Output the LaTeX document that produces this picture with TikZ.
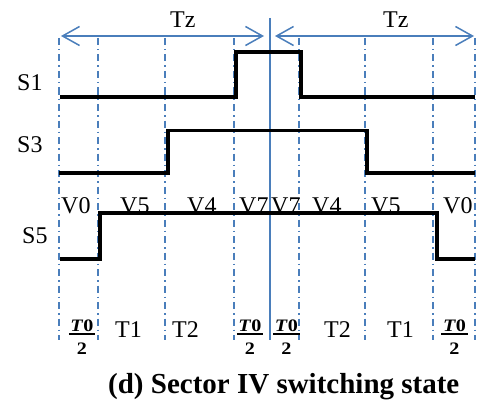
\documentclass[tikz,border=0pt]{standalone}
\usepackage{graphicx}
\usepackage{fontspec}
\setmainfont{Liberation Serif}
\usetikzlibrary{arrows.meta}
\definecolor{guide}{RGB}{74,126,187}
\newcommand{\halfzero}{\scalebox{1.15}[1]{\vbox{\offinterlineskip\halign{\hfil\kern1.5pt##\kern1.5pt\hfil\cr
  \textbf{\textit{T}0}\cr
  \noalign{\kern1.5pt\hrule height 1.8pt\kern 7.5pt}
  \textbf{2}\cr}}}}
\begin{document}
\begin{tikzpicture}[x=1pt,y=-1pt,
  lbl/.style={font=\fontsize{24}{28}\selectfont, inner sep=0pt, anchor=base west},
  frc/.style={font=\fontsize{17.5}{20}\selectfont, inner sep=0pt, anchor=center},
  wave/.style={line width=3.5pt, line join=miter, black},
  guideline/.style={guide, line width=1.5pt, dash pattern=on 7pt off 4pt on 1.5pt off 4pt},
  centerline/.style={guide, line width=2pt},
  span/.style={guide, line width=1.5pt, {Straight Barb[length=17pt,width=19pt]}-{Straight Barb[length=17pt,width=19pt]}}]
\useasboundingbox (0,0) rectangle (494,417);
% guide lines
\foreach \gx in {59,98,165,234,299,365,433,475}
  \draw[guideline] (\gx,38) -- (\gx,340);
\draw[centerline] (269.5,18) -- (269.5,340);
% span arrows
\coordinate (a1) at (61,36);
\coordinate (a2) at (264,36);
\coordinate (b1) at (275,36);
\coordinate (b2) at (474,36);
\draw[span] (a1) -- (a2);
\draw[span] (b1) -- (b2);
\node[lbl] (tzl) at (170,28) {Tz};
\node[lbl] (tzr) at (383,28) {Tz};
% waveforms
\draw[wave] (60,97) -- (236,97) -- (236,52) -- (301,52) -- (301,97) -- (475,97);
\draw[wave] (59,173) -- (168,173) -- (168,130.5) -- (367,130.5) -- (367,173) -- (475,173);
\draw[wave] (60,259) -- (100,259) -- (100,213) -- (437,213) -- (437,259) -- (475,259);
% signal labels
\node[lbl] (s1) at (17,90) {S1};
\node[lbl] (s3) at (17,152) {S3};
\node[lbl] (s5) at (22,243) {S5};
% vector labels
\node[lbl] (v0a) at (61,213) {V0};
\node[lbl] (v5a) at (120,213) {V5};
\node[lbl] (v4a) at (187,213) {V4};
\node[lbl] (v7a) at (239,213) {V7};
\node[lbl] (v7b) at (271,213) {V7};
\node[lbl] (v4b) at (312,213) {V4};
\node[lbl] (v5b) at (371,213) {V5};
\node[lbl] (v0b) at (443,213) {V0};
% time labels
\node[frc] (f1) at (82,337) {\halfzero};
\node[lbl] (t1a) at (115,337) {T1};
\node[lbl] (t2a) at (172,337) {T2};
\node[frc] (f2) at (250,337) {\halfzero};
\node[frc] (f3) at (286.5,337) {\halfzero};
\node[lbl] (t2b) at (324,337) {T2};
\node[lbl] (t1b) at (387,337) {T1};
\node[frc] (f4) at (454.5,337) {\halfzero};
% title
\node[font=\fontsize{29}{34}\selectfont\bfseries, inner sep=0pt, anchor=base west] (title) at (108,393) {(d) Sector IV switching state};
\end{tikzpicture}
\end{document}
